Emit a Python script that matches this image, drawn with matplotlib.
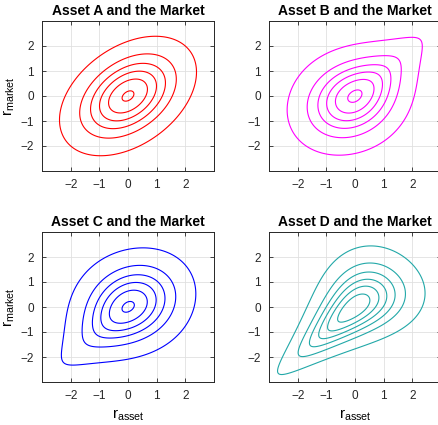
import numpy as np
import matplotlib
matplotlib.use("Agg")
import matplotlib.pyplot as plt
from math import erf

plt.rcParams['font.family'] = ['Liberation Sans', 'DejaVu Sans']
plt.rcParams['mathtext.fontset'] = 'custom'
plt.rcParams['mathtext.rm'] = 'Liberation Sans'

titles = ['Asset A and the Market', 'Asset B and the Market',
          'Asset C and the Market', 'Asset D and the Market']
colors = ['#ff0000', '#ff00ff', '#0000ff', '#22a8a8']
families = ['gaussian', 'gumbel', 'survival_gumbel', 'clayton']
# gaussian: correlation; the other copulas: theta
params = [0.4, 1.27, 1.25, 1.15]
levels = [0.01, 0.042, 0.074, 0.106, 0.138, 0.17]
ticks = [-2, -1, 0, 1, 2]

grid = np.linspace(-3, 3, 401)
X, Y = np.meshgrid(grid, grid)
norm_cdf = np.vectorize(lambda z: 0.5 * (1 + erf(z / np.sqrt(2))))
U = np.clip(norm_cdf(X), 1e-12, 1 - 1e-12)
V = np.clip(norm_cdf(Y), 1e-12, 1 - 1e-12)
phi = np.exp(-0.5 * (X**2 + Y**2)) / (2 * np.pi)


def gaussian_pdf(rho):
    q = (X**2 - 2 * rho * X * Y + Y**2) / (1 - rho**2)
    return np.exp(-0.5 * q) / (2 * np.pi * np.sqrt(1 - rho**2))


def clayton_cop(u, v, th):
    return (1 + th) * (u * v)**(-1 - th) * (u**-th + v**-th - 1)**(-2 - 1 / th)


def gumbel_cop(u, v, th):
    a, b = -np.log(u), -np.log(v)
    s = a**th + b**th
    C = np.exp(-s**(1 / th))
    return C / (u * v) * (a * b)**(th - 1) * s**(-2 + 1 / th) * (s**(1 / th) + th - 1)


def density(family, p):
    if family == 'gaussian':
        return gaussian_pdf(p)
    if family == 'gumbel':
        return gumbel_cop(U, V, p) * phi
    if family == 'survival_gumbel':
        return gumbel_cop(1 - U, 1 - V, p) * phi
    return clayton_cop(U, V, p) * phi


fig = plt.figure(figsize=(4.39, 4.25), dpi=100)
W, H = 439, 425
boxes = [(42, 21), (269, 21), (42, 232), (269, 232)]

for i, (left, top) in enumerate(boxes):
    ax = fig.add_axes([left / W, (H - top - 150) / H, 172 / W, 150 / H])
    Z = density(families[i], params[i])
    ax.contour(X, Y, Z, levels=levels, colors=colors[i], linewidths=0.8)
    ax.set_xlim(-3, 3)
    ax.set_ylim(-3, 3)
    ax.set_xticks(ticks)
    ax.set_yticks(ticks)
    ax.grid(True, color='#e0e0e0', linewidth=0.6)
    ax.set_axisbelow(True)
    ax.tick_params(direction='in', top=True, right=True, length=3, width=0.6,
                   labelsize=8.5, colors='#262626', pad=6)
    for sp in ax.spines.values():
        sp.set_color('#262626')
        sp.set_linewidth(0.7)
    ax.set_title(titles[i], fontsize=10, fontweight='bold', pad=4)
    if i % 2 == 0:
        ax.set_ylabel(r'$\mathregular{r_{market}}$', fontsize=11, labelpad=2)
    if i >= 2:
        ax.set_xlabel(r'$\mathregular{r_{asset}}$', fontsize=11, labelpad=4)

fig.savefig('out.png', dpi=100)
